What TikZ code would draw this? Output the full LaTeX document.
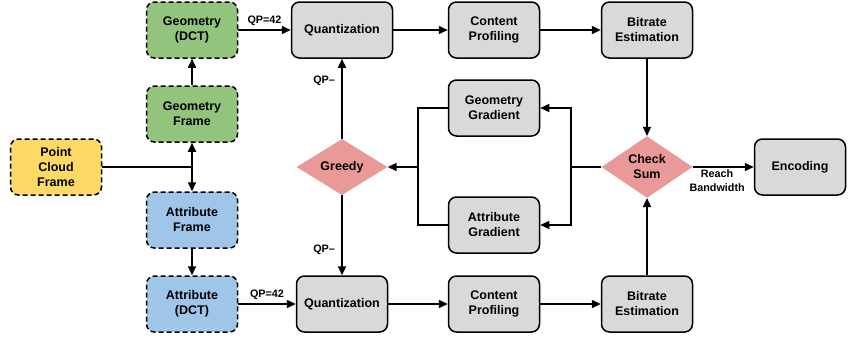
\documentclass[tikz,border=0pt]{standalone}
\usepackage{fontspec}
\setmainfont{Liberation Sans}
\usetikzlibrary{shapes.geometric,arrows.meta}
\definecolor{cgreen}{HTML}{93C47D}
\definecolor{cblue}{HTML}{9FC5E8}
\definecolor{cyellow}{HTML}{FFD966}
\definecolor{cgray}{HTML}{D9D9D9}
\definecolor{cred}{HTML}{EA9999}
\tikzset{
  box/.style={draw, line width=1.5pt, rounded corners=8pt, minimum width=91pt, minimum height=56pt,
    align=center, inner sep=0pt, font=\bfseries\fontsize{12.5}{15}\selectfont},
  gbox/.style={box, fill=cgray},
  dbox/.style={box, dash pattern=on 5pt off 3pt},
  diam/.style={diamond, draw=none, fill=cred, minimum width=91pt, minimum height=56pt, inner sep=0pt,
    align=center, font=\bfseries\fontsize{12.5}{15}\selectfont},
  arr/.style={line width=1.5pt, -{Triangle[length=9pt,width=8pt]}},
  ln/.style={line width=1.5pt},
  lab/.style={font=\bfseries\fontsize{10.8}{14}\selectfont, align=center},
}
\begin{document}
\begin{tikzpicture}[x=1pt,y=-1pt]
\useasboundingbox (0,0) rectangle (858,341);
\node[dbox, fill=cgreen] (gdct) at (192,30) {Geometry\\(DCT)};
\node[dbox, fill=cgreen] (gf) at (192,114) {Geometry\\Frame};
\node[dbox, fill=cyellow] (pcf) at (56,167) {Point\\Cloud\\Frame};
\node[dbox, fill=cblue] (af) at (192,220) {Attribute\\Frame};
\node[dbox, fill=cblue] (adct) at (192,304) {Attribute\\(DCT)};
\node[gbox, minimum width=101pt] (q1) at (342,30) {Quantization};
\node[gbox] (q2) at (342,304) {Quantization};
\node[gbox] (cp1) at (494,30) {Content\\Profiling};
\node[gbox] (cp2) at (494,304) {Content\\Profiling};
\node[gbox] (be1) at (647,30) {Bitrate\\Estimation};
\node[gbox] (be2) at (647,304) {Bitrate\\Estimation};
\node[gbox] (gg) at (494,108) {Geometry\\Gradient};
\node[gbox] (ag) at (494,225) {Attribute\\Gradient};
\node[diam] (g) at (342,167) {Greedy};
\node[diam] (cs) at (647,167) {Check\\Sum};
\node[gbox] (enc) at (800,167) {Encoding};
\coordinate (j) at (192,167);
\coordinate (r1) at (571,167);
\coordinate (l1) at (418,167);
\draw[ln] (pcf.east) -- (j);
\draw[arr] (j) -- (gf.south);
\draw[arr] (j) -- (af.north);
\draw[arr] (gf) -- (gdct);
\draw[arr] (af) -- (adct);
\draw[arr] (gdct) -- node[lab, above] {QP=42} (q1);
\draw[arr] (adct) -- node[lab, above] {QP=42} (q2);
\draw[arr] (q1) -- (cp1);
\draw[arr] (cp1) -- (be1);
\draw[arr] (q2) -- (cp2);
\draw[arr] (cp2) -- (be2);
\draw[arr] (be1) -- (cs.north);
\draw[arr] (be2) -- (cs.south);
\draw[arr] (cs) -- node[lab, below, inner sep=1.5pt, pos=0.4] {Reach\\Bandwidth} (enc);
\draw[ln] (cs.west) -- (r1);
\draw[arr] (r1) |- (gg.east);
\draw[arr] (r1) |- (ag.east);
\draw[ln] (gg.west) -| (l1);
\draw[ln] (ag.west) -| (l1);
\draw[arr] (l1) -- (g.east);
\draw[arr] (g.north) -- node[lab, left, pos=0.73, xshift=-3pt] {QP–} (q1.south);
\draw[arr] (g.south) -- node[lab, left, pos=0.68, xshift=-3pt] {QP–} (q2.north);
\end{tikzpicture}
\end{document}
